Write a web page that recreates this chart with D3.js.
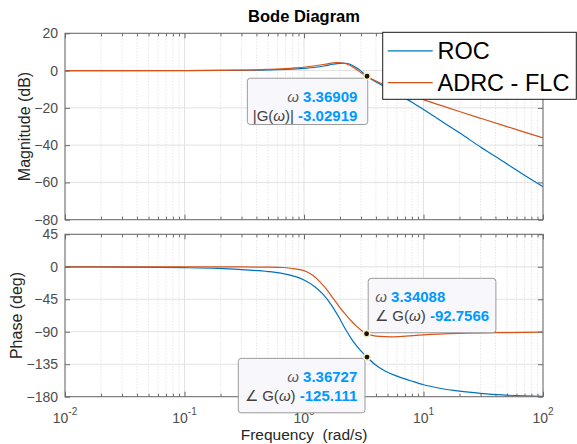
<!DOCTYPE html>
<html>
<head>
<meta charset="utf-8">
<script src="https://cdn.jsdelivr.net/npm/d3@7"></script>
<style>
  html, body { margin: 0; padding: 0; background: #fff; }
  svg { display: block; font-family: "Liberation Sans", Arial, Helvetica, sans-serif; }
  text { white-space: pre; }
</style>
</head>
<body>
<svg id="chart" width="577" height="444"></svg>
<script>
// ---- Series data (frequency in rad/s) ----
const rocMagFreq  = [0.01, 0.03, 0.1, 0.2, 0.3, 0.5, 0.7, 0.85, 1.0, 1.25, 1.5, 1.75, 2.0, 2.15, 2.3, 2.5, 2.75, 3.0, 3.36909, 3.8, 4.3, 5, 6, 8, 10, 15, 20, 30, 50, 70, 100];
const rocMagDb    = [0, 0, 0.02, 0.06, 0.13, 0.35, 0.65, 0.9, 1.2, 1.8, 2.6, 3.4, 3.9, 4.0, 3.8, 3.0, 1.5, -0.3, -3.02919, -5.2, -7.2, -9.6, -12.4, -17.0, -20.9, -28.2, -33.4, -41.0, -50.1, -56.2, -62.3];

const adrcMagFreq = [0.01, 0.03, 0.1, 0.2, 0.3, 0.5, 0.7, 0.85, 1.0, 1.25, 1.5, 1.7, 1.88, 2.05, 2.28, 2.5, 2.76, 3.0, 3.369, 3.8, 4.3, 5, 6, 8, 10, 15, 20, 30, 50, 70, 100];
const adrcMagDb   = [0, 0, 0.03, 0.1, 0.25, 0.6, 1.0, 1.4, 1.8, 2.6, 3.4, 4.0, 4.3, 4.2, 3.5, 2.3, 0.5, -1.1, -3.2, -4.93, -6.54, -8.37, -10.42, -13.42, -15.6, -19.35, -21.95, -25.56, -30.07, -33.0, -36.1];

const rocPhaseFreq = [0.01, 0.03, 0.1, 0.19, 0.35, 0.5, 0.67, 0.84, 1.0, 1.24, 1.44, 1.68, 1.96, 2.25, 2.57, 2.94, 3.36727, 3.93, 4.76, 6.0, 7.7, 10, 13.7, 20, 30, 46, 100];
const rocPhaseDeg  = [-0.1, -0.4, -1.2, -2.3, -4.6, -6.6, -9.4, -13.3, -18.3, -28, -38, -52, -70, -88, -103, -115, -125.111, -135.5, -144.5, -151.5, -157.5, -163.5, -168.3, -172.3, -175.3, -177.6, -179.4];

const adrcPhaseFreq = [0.01, 0.1, 0.3, 0.5, 0.667, 0.81, 0.93, 1.053, 1.19, 1.36, 1.54, 1.75, 2.0, 2.28, 2.5, 2.76, 3.03, 3.34088, 3.78, 4.32, 5.25, 6.35, 10, 20, 46, 100];
const adrcPhaseDeg  = [0, -0.05, -0.2, -0.5, -1.0, -2.5, -4.0, -6.9, -12, -20.8, -31, -43.4, -56.5, -68, -75.5, -82.5, -88.2, -92.7566, -95.3, -96.5, -97, -96.6, -94.3, -92.3, -91.2, -90.6];

// ---- Axis ticks and labels ----
const magTicks     = [20, 0, -20, -40, -60, -80];
const phaseTicks   = [45, 0, -45, -90, -135, -180];
const decadeTicks  = [0.01, 0.1, 1, 10, 100];
const decadeExps   = ["-2", "-1", "0", "1", "2"];

// ---- Legend ----
const seriesNames  = ["ROC", "ADRC - FLC"];
const seriesColors = ["#0072BD", "#D95319"];

// ---- Data tips ----
const tipFreq      = [3.36909, 3.34088, 3.36727];
const tipValue     = [-3.02919, -92.7566, -125.111];
const tipFreqText  = ["3.36909", "3.34088", "3.36727"];
const tipValueText = ["-3.02919", "-92.7566", "-125.111"];
const tipLabel     = ["|G(\u03C9)|", "\u2220 G(\u03C9)", "\u2220 G(\u03C9)"];

// ---- Layout ----
const svg = d3.select("#chart");
const plotLeft = 65, plotRight = 543;
const magTop = 33.3, magBottom = 219.7;
const phTop = 234.3, phBottom = 396.7;

const x = d3.scaleLog().domain([0.01, 100]).range([plotLeft, plotRight]);
const yMag = d3.scaleLinear().domain([-80, 20]).range([magBottom, magTop]);
const yPh = d3.scaleLinear().domain([-180, 45]).range([phBottom, phTop]);

const isDecade = v => Math.abs(Math.log10(v) - Math.round(Math.log10(v))) < 1e-9;
const allFreqTicks = x.ticks();
const minorFreqTicks = allFreqTicks.filter(v => !isDecade(v));

const axisColor = "#6a6a6a";
const tickTextColor = "#4d4d4d";

function drawPanel(y, yTicks, top, bottom, series, clipId) {
  const g = svg.append("g");

  g.append("rect")
    .attr("x", plotLeft).attr("y", top)
    .attr("width", plotRight - plotLeft).attr("height", bottom - top)
    .attr("fill", "#fff");

  // minor vertical grid (dotted)
  g.append("g").selectAll("line").data(minorFreqTicks).join("line")
    .attr("x1", d => x(d)).attr("x2", d => x(d))
    .attr("y1", top).attr("y2", bottom)
    .attr("stroke", "#d2d2d2").attr("stroke-width", 0.8)
    .attr("stroke-dasharray", "1,2");

  // major vertical grid
  g.append("g").selectAll("line").data(decadeTicks).join("line")
    .attr("x1", d => x(d)).attr("x2", d => x(d))
    .attr("y1", top).attr("y2", bottom)
    .attr("stroke", "#e2e2e2").attr("stroke-width", 1);

  // horizontal grid
  g.append("g").selectAll("line").data(yTicks).join("line")
    .attr("x1", plotLeft).attr("x2", plotRight)
    .attr("y1", d => y(d)).attr("y2", d => y(d))
    .attr("stroke", "#e2e2e2").attr("stroke-width", 1);

  // curves
  svg.append("clipPath").attr("id", clipId)
    .append("rect")
    .attr("x", plotLeft).attr("y", top)
    .attr("width", plotRight - plotLeft).attr("height", bottom - top);

  const line = d3.line()
    .x(d => x(d[0])).y(d => y(d[1]))
    .curve(d3.curveMonotoneX);

  const cg = g.append("g").attr("clip-path", `url(#${clipId})`);
  series.forEach(s => {
    cg.append("path")
      .attr("d", line(s.freq.map((f, i) => [f, s.val[i]])))
      .attr("fill", "none")
      .attr("stroke", s.color)
      .attr("stroke-width", 1.2);
  });

  // y ticks (left with labels, right without)
  const left = g.append("g").attr("transform", `translate(${plotLeft},0)`)
    .call(d3.axisLeft(y).tickValues(yTicks).tickSizeInner(-5).tickSizeOuter(0).tickPadding(7));
  left.select(".domain").remove();
  left.selectAll("line").attr("stroke", axisColor);
  left.selectAll("text").attr("fill", tickTextColor).attr("font-size", 14)
    .attr("font-family", "'Liberation Sans', Arial, sans-serif");

  const right = g.append("g").attr("transform", `translate(${plotRight},0)`)
    .call(d3.axisRight(y).tickValues(yTicks).tickSizeInner(-5).tickSizeOuter(0).tickFormat(""));
  right.select(".domain").remove();
  right.selectAll("line").attr("stroke", axisColor);

  // x ticks top & bottom (major and minor, pointing inward)
  [[d3.axisBottom, bottom], [d3.axisTop, top]].forEach(([axisFn, pos]) => {
    const major = g.append("g").attr("transform", `translate(0,${pos})`)
      .call(axisFn(x).tickValues(decadeTicks).tickSizeInner(-5).tickSizeOuter(0).tickFormat(""));
    major.select(".domain").remove();
    major.selectAll("line").attr("stroke", axisColor);
    const minor = g.append("g").attr("transform", `translate(0,${pos})`)
      .call(axisFn(x).tickValues(minorFreqTicks).tickSizeInner(-3).tickSizeOuter(0).tickFormat(""));
    minor.select(".domain").remove();
    minor.selectAll("line").attr("stroke", axisColor);
  });

  // frame
  g.append("rect")
    .attr("x", plotLeft).attr("y", top)
    .attr("width", plotRight - plotLeft).attr("height", bottom - top)
    .attr("fill", "none").attr("stroke", axisColor).attr("stroke-width", 1);
}

drawPanel(yMag, magTicks, magTop, magBottom, [
  { freq: rocMagFreq, val: rocMagDb, color: seriesColors[0] },
  { freq: adrcMagFreq, val: adrcMagDb, color: seriesColors[1] }
], "clipMag");

drawPanel(yPh, phaseTicks, phTop, phBottom, [
  { freq: rocPhaseFreq, val: rocPhaseDeg, color: seriesColors[0] },
  { freq: adrcPhaseFreq, val: adrcPhaseDeg, color: seriesColors[1] }
], "clipPh");

// frequency tick labels (10^n)
const xl = svg.append("g");
decadeTicks.forEach((d, i) => {
  const t = xl.append("text")
    .attr("x", x(d)).attr("y", 423)
    .attr("text-anchor", "middle")
    .attr("fill", tickTextColor)
    .attr("font-size", 14);
  t.append("tspan").text("10");
  t.append("tspan").attr("dy", -8).attr("font-size", 10).text(decadeExps[i]);
});

// titles and axis labels
svg.append("text")
  .attr("x", (plotLeft + plotRight) / 2).attr("y", 21.7)
  .attr("text-anchor", "middle")
  .attr("font-weight", "bold").attr("font-size", 16.5).attr("fill", "#000")
  .text("Bode Diagram");

svg.append("text")
  .attr("transform", `translate(30,${(magTop + magBottom) / 2}) rotate(-90)`)
  .attr("text-anchor", "middle").attr("font-size", 16).attr("fill", "#262626")
  .text("Magnitude (dB)");

svg.append("text")
  .attr("transform", `translate(21.6,${(phTop + phBottom) / 2}) rotate(-90)`)
  .attr("text-anchor", "middle").attr("font-size", 16).attr("fill", "#262626")
  .text("Phase (deg)");

svg.append("text")
  .attr("x", (plotLeft + plotRight) / 2).attr("y", 440.3)
  .attr("text-anchor", "middle").attr("font-size", 15.5).attr("fill", "#262626")
  .text("Frequency  (rad/s)");

// data tips
const tipScales = [yMag, yPh, yPh];
const tipBoxes = [
  { dx: -119.7, dy: 2, w: 120.4, h: 46.3, anchor: "end", tx: 110 },
  { dx: 1.6, dy: -55.4, w: 127.7, h: 54.4, anchor: "start", tx: 7 },
  { dx: -128.7, dy: 1.3, w: 126.7, h: 54.4, anchor: "end", tx: 119 }
];
const tg = svg.append("g");
tipFreq.forEach((f, i) => {
  const ax = x(f), ay = tipScales[i](tipValue[i]);
  const b = tipBoxes[i];
  const bx = ax + b.dx, by = ay + b.dy;
  tg.append("rect")
    .attr("x", bx).attr("y", by).attr("width", b.w).attr("height", b.h)
    .attr("rx", 3).attr("ry", 3)
    .attr("fill", "#f8f8fc").attr("fill-opacity", 0.96)
    .attr("stroke", "#9a9a9a").attr("stroke-width", 1);

  const lines = [
    { label: "\u03C9", italic: true, value: tipFreqText[i] },
    { label: tipLabel[i], italic: false, value: tipValueText[i] }
  ];
  lines.forEach((ln, k) => {
    const t = tg.append("text")
      .attr("x", bx + b.tx).attr("y", by + (k === 0 ? 23.6 : 42.8))
      .attr("text-anchor", b.anchor)
      .attr("font-size", 15);
    if (ln.italic) {
      t.append("tspan").attr("font-style", "italic").attr("fill", "#5a5a5a").text(ln.label);
    } else {
      const parts = ln.label.split("\u03C9");
      t.append("tspan").attr("fill", "#404040").text(parts[0]);
      t.append("tspan").attr("fill", "#404040").attr("font-style", "italic").text("\u03C9");
      t.append("tspan").attr("fill", "#404040").text(parts[1]);
    }
    t.append("tspan").text(" ");
    t.append("tspan").attr("font-weight", "bold").attr("fill", "#0099FF").text(ln.value);
  });

  tg.append("circle")
    .attr("cx", ax).attr("cy", ay).attr("r", 3.2)
    .attr("fill", "#111").attr("stroke", "#f6f1c0").attr("stroke-width", 1.6);
});

// legend
const lg = svg.append("g");
lg.append("rect")
  .attr("x", 382.7).attr("y", 32.3).attr("width", 193.6).attr("height", 67)
  .attr("fill", "#fff").attr("stroke", "#1a1a1a").attr("stroke-width", 1);
seriesNames.forEach((name, i) => {
  const cy = 50.9 + i * 31.8;
  lg.append("line")
    .attr("x1", 387.7).attr("x2", 432.7).attr("y1", cy).attr("y2", cy)
    .attr("stroke", seriesColors[i]).attr("stroke-width", 1.2);
  lg.append("text")
    .attr("x", 437.5).attr("y", cy + 8.3)
    .attr("font-size", 23.5).attr("fill", "#000")
    .text(name);
});
</script>
</body>
</html>
